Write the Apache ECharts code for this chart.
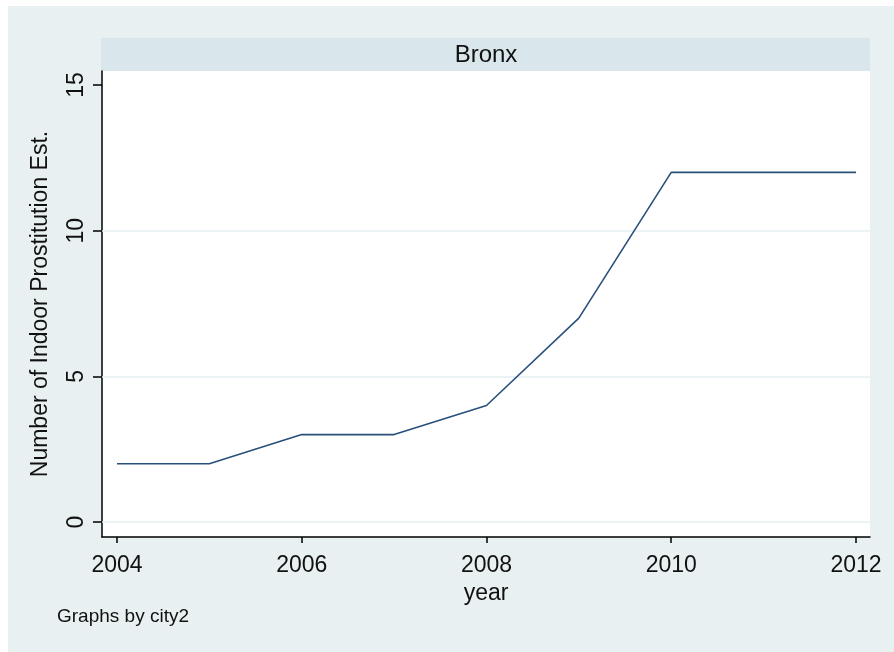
<!DOCTYPE html>
<html>
<head>
<meta charset="utf-8">
<script src="https://cdn.jsdelivr.net/npm/echarts@6.0.0/dist/echarts.min.js"></script>
<style>
html,body{margin:0;padding:0;background:#fff;}
#chart{width:894px;height:652px;}
</style>
</head>
<body>
<div id="chart"></div>
<script>
var years = [2004, 2005, 2006, 2007, 2008, 2009, 2010, 2011, 2012];
var counts = [2, 2, 3, 3, 4, 7, 12, 12, 12];
var xTickValues = [2004, 2006, 2008, 2010, 2012];
var yTickValues = [0, 5, 10, 15];
var gridValues = [0, 5, 10];
var panelTitle = 'Bronx';
var xTitle = 'year';
var yTitle = 'Number of Indoor Prostitution Est.';
var noteText = 'Graphs by city2';

var FONT = '"Liberation Sans", Arial, sans-serif';
var chart = echarts.init(document.getElementById('chart'), null, {renderer: 'canvas'});

var seriesData = years.map(function (y, i) { return [y, counts[i]]; });

chart.setOption({
  backgroundColor: '#ffffff',
  animation: false,
  graphic: [
    {type: 'rect', shape: {x: 8, y: 6, width: 886, height: 646}, style: {fill: '#E8F0F2'}, z: -10, silent: true},
    {type: 'rect', shape: {x: 101, y: 38, width: 769, height: 33}, style: {fill: '#D9E6EB'}, z: -5, silent: true},
    {type: 'text', x: 486, y: 55, style: {text: panelTitle, font: '24px ' + FONT, fill: '#111', align: 'center', verticalAlign: 'middle'}, z: 5},
    {type: 'text', x: 57, y: 617, style: {text: noteText, font: '19px ' + FONT, fill: '#111', align: 'left', verticalAlign: 'middle'}, z: 5}
  ],
  grid: {
    left: 102, top: 71, right: 24, bottom: 115,
    show: true, backgroundColor: '#ffffff', borderWidth: 0, containLabel: false
  },
  xAxis: {
    type: 'value',
    min: 2003.838, max: 2012.152,
    name: xTitle, nameLocation: 'middle', nameGap: 44,
    nameTextStyle: {fontFamily: FONT, fontSize: 23, color: '#111'},
    axisLine: {show: true, onZero: false, lineStyle: {color: '#000', width: 1.5}},
    axisTick: {show: true, inside: false, length: 6, customValues: xTickValues, lineStyle: {color: '#000', width: 1.5}},
    axisLabel: {show: true, margin: 17, customValues: xTickValues, fontFamily: FONT, fontSize: 23, color: '#111',
      formatter: function (v) { return String(v); }},
    splitLine: {show: false}
  },
  yAxis: {
    type: 'value',
    min: -0.515, max: 15.48,
    name: yTitle, nameLocation: 'middle', nameGap: 50, nameRotate: 90,
    nameTextStyle: {fontFamily: FONT, fontSize: 23, color: '#111'},
    axisLine: {show: true, onZero: false, lineStyle: {color: '#000', width: 1.5}},
    axisTick: {show: true, inside: false, length: 9, customValues: yTickValues, lineStyle: {color: '#000', width: 1.5}},
    axisLabel: {show: true, margin: 14, rotate: 90, customValues: yTickValues, fontFamily: FONT, fontSize: 23, color: '#111',
      formatter: function (v) { return String(v); }},
    splitLine: {show: false}
  },
  series: [{
    type: 'line',
    data: seriesData,
    symbol: 'none',
    lineStyle: {color: '#28507a', width: 1.6},
    z: 3,
    markLine: {
      silent: true,
      symbol: 'none',
      label: {show: false},
      lineStyle: {color: '#E6EFF1', width: 1.5, type: 'solid'},
      z: 1,
      data: gridValues.map(function (v) { return {yAxis: v}; })
    }
  }]
});
</script>
</body>
</html>
